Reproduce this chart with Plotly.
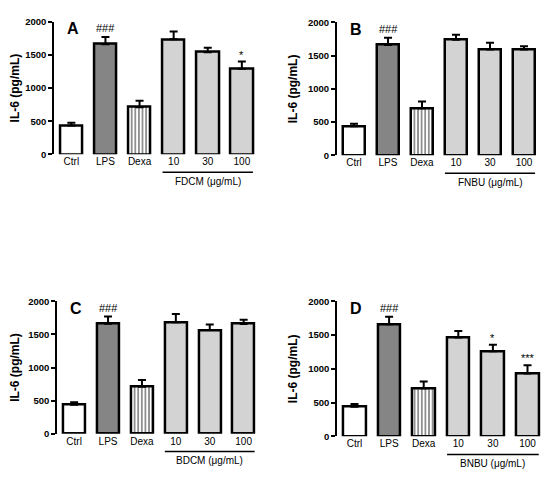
import plotly.graph_objects as go

# shared groups (same controls in every panel)
groups = ["Ctrl", "LPS", "Dexa", "10", "30", "100"]
ctrl_mean = [437, 1662, 710]
ctrl_sem = [40, 110, 100]

# treatment groups, 10/30/100 ug/mL
fdcm_mean = [1735, 1540, 1290]
fdcm_sem = [118, 68, 110]
fnbu_mean = [1740, 1593, 1593]
fnbu_sem = [74, 103, 49]
bdcm_mean = [1685, 1567, 1660]
bdcm_sem = [123, 83, 64]
bnbu_mean = [1464, 1261, 932]
bnbu_sem = [96, 96, 121]

# significance marks above bars
fdcm_sig = ["", "###", "", "", "", "*"]
fnbu_sig = ["", "###", "", "", "", ""]
bdcm_sig = ["", "###", "", "", "", ""]
bnbu_sig = ["", "###", "", "", "*", "***"]

yticks = [0, 500, 1000, 1500, 2000]

# page has the default 8px body margin, so the figure is shrunk to fit the window
OFF = 8
W, H = 550 - 2 * OFF, 487 - 2 * OFF
FONT = "Liberation Sans, Arial, sans-serif"

fill = ["white", "#858585", "white", "#d3d3d3", "#d3d3d3", "#d3d3d3"]
shapes_pat = ["", "", "|", "", "", ""]

# panel: letter, extract, means, sems, sigs, page px of y axis, pitch px, page px of 0, of 2000
panels = [
    ("A", "FDCM", fdcm_mean, fdcm_sem, fdcm_sig, 54.3, 34.1, 151.7, 16.0),
    ("B", "FNBU", fnbu_mean, fnbu_sem, fnbu_sig, 337.0, 34.0, 152.7, 16.7),
    ("C", "BDCM", bdcm_mean, bdcm_sem, bdcm_sig, 57.2, 33.9, 437.7, 302.3),
    ("D", "BNBU", bnbu_mean, bnbu_sem, bnbu_sig, 337.2, 34.6, 440.3, 302.3),
]

bw = 0.65
xr = [-0.5, 5.45]

fig = go.Figure()
shapes = []
annots = []

for i, (letter, name, m, s, sig, x0, pitch, y0, y1) in enumerate(panels):
    n = "" if i == 0 else str(i + 1)
    xa, ya = "x" + n, "y" + n
    means = ctrl_mean + m
    sems = ctrl_sem + s

    fig.add_trace(go.Bar(
        x=list(range(6)), y=means, xaxis=xa, yaxis=ya, width=bw,
        marker=dict(color=fill, line=dict(color="black", width=2.5),
                    pattern=dict(shape=shapes_pat, fgcolor="black", bgcolor="white",
                                 size=3.6, solidity=0.3, fgopacity=1)),
        error_y=dict(type="data", array=sems, arrayminus=[0] * 6, symmetric=False,
                     color="black", thickness=2, width=4),
        showlegend=False, hoverinfo="skip",
    ))

    x1 = x0 + pitch * (xr[1] - xr[0])
    dx = [(x0 - OFF) / W, min(1.0, (x1 - OFF) / W)]
    rng = [xr[0], xr[0] + (dx[1] * W - dx[0] * W) / pitch]
    fig.update_layout(**{
        "xaxis" + n: dict(domain=dx, range=rng, anchor=ya,
                          tickvals=list(range(6)), ticktext=groups,
                          showline=False, showgrid=False, zeroline=False, ticks="",
                          tickfont=dict(family=FONT, size=10, color="black")),
        "yaxis" + n: dict(domain=[1 - (y0 - OFF) / H, 1 - (y1 - OFF) / H], range=[0, 2000], anchor=xa,
                          tickvals=yticks, showline=True, linecolor="black", linewidth=2,
                          ticks="outside", ticklen=4, tickwidth=2, tickcolor="black",
                          showgrid=False, zeroline=False,
                          tickfont=dict(family=FONT, size=9.5, color="black", weight="bold"),
                          title=dict(text="IL-6 (pg/mL)", standoff=8,
                                     font=dict(family=FONT, size=12, color="black", weight="bold"))),
    })

    # underline of dose groups
    uy = -(170 - 151.7) / 135.7
    shapes.append(dict(type="line", xref=xa, yref=ya + " domain",
                       x0=3 - bw / 2, x1=5 + bw / 2, y0=uy, y1=uy,
                       line=dict(color="black", width=1.5)))
    annots.append(dict(xref=xa, yref=ya + " domain", x=4, y=-(179.5 - 151.7) / 135.7,
                       text=name + " (\u03bcg/mL)", showarrow=False, yanchor="middle",
                       font=dict(family=FONT, size=10, color="black")))
    annots.append(dict(xref=xa + " domain", yref=ya + " domain", x=0.055, y=0.95,
                       text="<b>" + letter + "</b>", showarrow=False, xanchor="left", yanchor="middle",
                       font=dict(family=FONT, size=16, color="black")))
    for k in range(6):
        if sig[k]:
            annots.append(dict(xref=xa, yref=ya, x=k, y=means[k] + sems[k], text=sig[k],
                               showarrow=False, yanchor="bottom",
                               yshift=1 if sig[k].startswith("#") else -1,
                               font=dict(family=FONT, size=11, color="black")))

fig.update_layout(
    width=W, height=H, margin=dict(l=0, r=0, t=0, b=0),
    paper_bgcolor="white", plot_bgcolor="white",
    shapes=shapes, annotations=annots, bargap=0,
)

fig.write_html("out.html")
